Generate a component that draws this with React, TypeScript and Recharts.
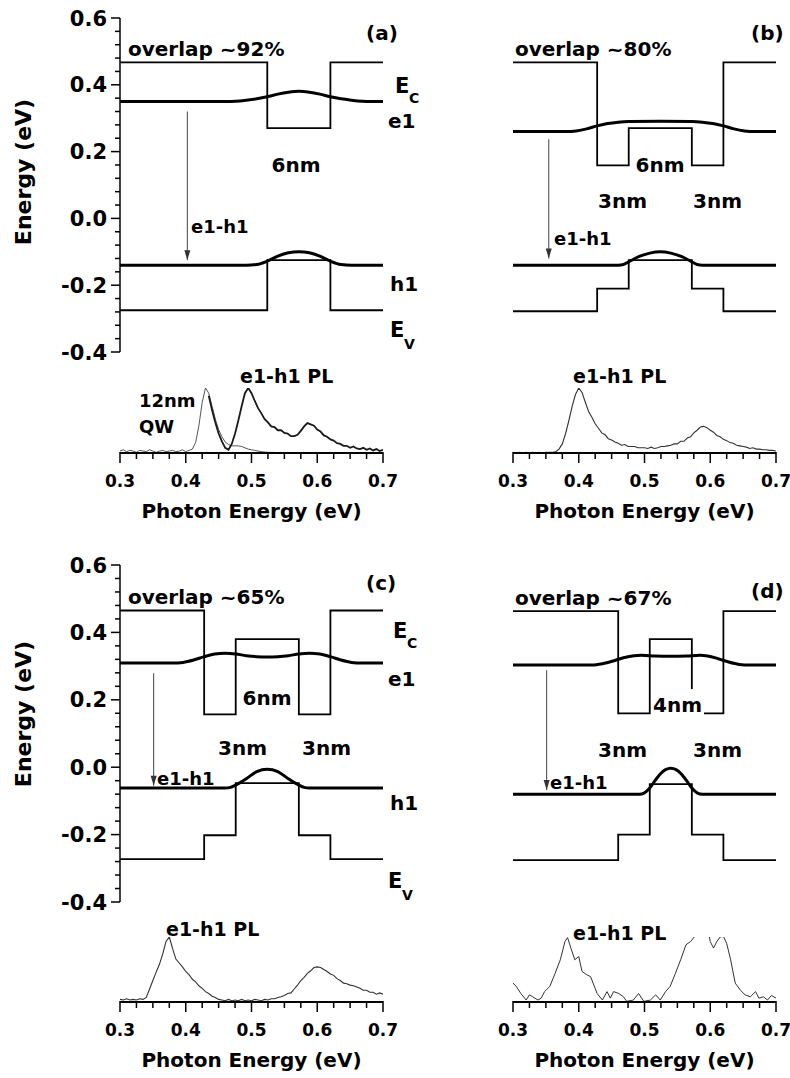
import React from "react";
import { ComposedChart, Line, XAxis, YAxis } from "recharts";

const FONT = "'DejaVu Sans', 'Liberation Sans', sans-serif";

type Pt = [number, number];

// ---------- band diagrams: [position along growth axis (nm), energy (eV)] ----------
const POSITION_RANGE = [0, 25];
const ENERGY_RANGE = [-0.4, 0.6];
const ENERGY_TICKS = [
  -0.4, -0.36, -0.32, -0.28, -0.24, -0.2, -0.16, -0.12, -0.08, -0.04, 0, 0.04, 0.08,
  0.12, 0.16, 0.2, 0.24, 0.28, 0.32, 0.36, 0.4, 0.44, 0.48, 0.52, 0.56, 0.6,
];

// (a) single 6 nm well
const A_EC: Pt[] = [[0, 0.467], [14, 0.467], [14, 0.27], [20, 0.27], [20, 0.467], [25, 0.467]];
const A_EV: Pt[] = [[0, -0.275], [14, -0.275], [14, -0.125], [20, -0.125], [20, -0.275], [25, -0.275]];
const A_E1: Pt[] = [
  [0, 0.35], [10, 0.35], [11, 0.351], [12, 0.354], [13, 0.358], [14, 0.364], [15, 0.372], [16, 0.378],
  [17, 0.381], [18, 0.378], [19, 0.372], [20, 0.364], [21, 0.358], [22, 0.354], [23, 0.351], [24, 0.35], [25, 0.35],
];
const A_H1: Pt[] = [
  [0, -0.14], [12, -0.14], [13, -0.138], [14, -0.128], [15, -0.113], [16, -0.103], [17, -0.1],
  [18, -0.103], [19, -0.113], [20, -0.128], [21, -0.138], [22, -0.14], [25, -0.14],
];
const A_ARROW: Pt[] = [[6.4, 0.32], [6.4, -0.125]];

// (b) 3 nm / 6 nm / 3 nm, shallow centre
const B_EC: Pt[] = [[0, 0.467], [8, 0.467], [8, 0.159], [11, 0.159], [11, 0.27], [17, 0.27], [17, 0.159], [20, 0.159], [20, 0.467], [25, 0.467]];
const B_EV: Pt[] = [[0, -0.278], [8, -0.278], [8, -0.21], [11, -0.21], [11, -0.125], [17, -0.125], [17, -0.21], [20, -0.21], [20, -0.278], [25, -0.278]];
const B_E1: Pt[] = [
  [0, 0.26], [5, 0.26], [6, 0.262], [7, 0.268], [8, 0.277], [9, 0.284], [10, 0.288], [11, 0.29], [14, 0.291],
  [17, 0.29], [18, 0.288], [19, 0.284], [20, 0.277], [21, 0.268], [22, 0.262], [23, 0.26], [25, 0.26],
];
const B_H1: Pt[] = [
  [0, -0.14], [10, -0.14], [10.5, -0.138], [11, -0.13], [12, -0.114], [13, -0.104], [14, -0.1],
  [15, -0.104], [16, -0.114], [17, -0.13], [17.5, -0.138], [18, -0.14], [25, -0.14],
];
const B_ARROW: Pt[] = [[3.4, 0.237], [3.4, -0.12]];

// (c) 3 nm / 6 nm / 3 nm, tall centre barrier
const C_EC: Pt[] = [[0, 0.465], [8, 0.465], [8, 0.157], [11, 0.157], [11, 0.38], [17, 0.38], [17, 0.157], [20, 0.157], [20, 0.465], [25, 0.465]];
const C_EV: Pt[] = [[0, -0.273], [8, -0.273], [8, -0.202], [11, -0.202], [11, -0.047], [17, -0.047], [17, -0.202], [20, -0.202], [20, -0.273], [25, -0.273]];
const C_E1: Pt[] = [
  [0, 0.309], [5, 0.309], [6, 0.311], [7, 0.318], [8, 0.328], [9, 0.336], [10, 0.338], [11, 0.336], [12, 0.331],
  [13, 0.328], [14, 0.327], [15, 0.328], [16, 0.331], [17, 0.336], [18, 0.338], [19, 0.336], [20, 0.328],
  [21, 0.318], [22, 0.311], [23, 0.309], [25, 0.309],
];
const C_H1: Pt[] = [
  [0, -0.062], [10, -0.062], [10.5, -0.06], [11, -0.053], [12, -0.034], [13, -0.013], [14, -0.006],
  [15, -0.013], [16, -0.034], [17, -0.053], [17.5, -0.06], [18, -0.062], [25, -0.062],
];
const C_ARROW: Pt[] = [[3.2, 0.279], [3.2, -0.055]];

// (d) 3 nm / 4 nm / 3 nm
const D_EC: Pt[] = [[0, 0.463], [10, 0.463], [10, 0.16], [13, 0.16], [13, 0.38], [17, 0.38], [17, 0.16], [20, 0.16], [20, 0.463], [25, 0.463]];
const D_EV: Pt[] = [[0, -0.276], [10, -0.276], [10, -0.2], [13, -0.2], [13, -0.05], [17, -0.05], [17, -0.2], [20, -0.2], [20, -0.276], [25, -0.276]];
const D_E1: Pt[] = [
  [0, 0.303], [7.5, 0.303], [8.5, 0.307], [9.5, 0.315], [10.5, 0.325], [11.5, 0.331], [12.2, 0.332], [13.5, 0.33],
  [15, 0.329], [16.5, 0.33], [17.8, 0.332], [18.5, 0.33], [19.5, 0.322], [20.5, 0.312], [21.5, 0.305], [22.5, 0.303], [25, 0.303],
];
const D_H1: Pt[] = [
  [0, -0.08], [12, -0.08], [12.5, -0.076], [13, -0.062], [13.5, -0.04], [14, -0.02], [14.5, -0.007], [15, -0.003],
  [15.5, -0.007], [16, -0.02], [16.5, -0.04], [17, -0.062], [17.5, -0.076], [18, -0.08], [25, -0.08],
];
const D_ARROW: Pt[] = [[3.2, 0.288], [3.2, -0.068]];

// ---------- PL spectra (normalised intensity vs photon energy, eV) ----------
const PHOTON_RANGE = [0.3, 0.7];
const PHOTON_TICKS = [0.3, 0.325, 0.35, 0.375, 0.4, 0.425, 0.45, 0.475, 0.5, 0.525, 0.55, 0.575, 0.6, 0.625, 0.65, 0.675, 0.7];
const PL_GRID = [
  0.3, 0.305, 0.31, 0.315, 0.32, 0.325, 0.33, 0.335, 0.34, 0.345,
  0.35, 0.355, 0.36, 0.365, 0.37, 0.375, 0.38, 0.385, 0.39, 0.395,
  0.4, 0.405, 0.41, 0.415, 0.42, 0.425, 0.43, 0.435, 0.44, 0.445,
  0.45, 0.455, 0.46, 0.465, 0.47, 0.475, 0.48, 0.485, 0.49, 0.495,
  0.5, 0.505, 0.51, 0.515, 0.52, 0.525, 0.53, 0.535, 0.54, 0.545,
  0.55, 0.555, 0.56, 0.565, 0.57, 0.575, 0.58, 0.585, 0.59, 0.595,
  0.6, 0.605, 0.61, 0.615, 0.62, 0.625, 0.63, 0.635, 0.64, 0.645,
  0.65, 0.655, 0.66, 0.665, 0.67, 0.675, 0.68, 0.685, 0.69, 0.695,
  0.7,
];

// 12 nm reference QW, 0.300 – 0.560 eV
const PL_A_QW = [
  0.03, 0.05, 0.02, 0.04, 0.03, 0.01, 0.04, 0.03, 0.02, 0.05,
  0.03, 0.01, 0.03, 0.04, 0.02, 0.03, 0.04, 0.02, 0.03, 0.05,
  0.02, 0.04, 0.06, 0.16, 0.42, 0.78, 1.0, 0.92, 0.72, 0.52,
  0.36, 0.25, 0.17, 0.13, 0.11, 0.11, 0.11, 0.1, 0.08, 0.06,
  0.05, 0.04, 0.03, 0.02, 0.015, 0.01, 0.01, 0.008, 0.006, 0.005,
  0.004, 0.003, 0.002,
];
// sample (a), 0.435 – 0.700 eV
const PL_A_E1H1 = [
  0.88, 0.66, 0.47,
  0.3, 0.18, 0.08, 0.05, 0.14, 0.3, 0.5, 0.72, 0.92, 1.0,
  0.92, 0.8, 0.69, 0.61, 0.52, 0.47, 0.41, 0.4, 0.35, 0.35,
  0.31, 0.3, 0.26, 0.26, 0.28, 0.34, 0.41, 0.46, 0.44, 0.42,
  0.36, 0.33, 0.27, 0.25, 0.21, 0.19, 0.15, 0.14, 0.11, 0.11,
  0.08, 0.1, 0.07, 0.06, 0.08, 0.05, 0.07, 0.04, 0.06, 0.03,
  0.05,
];
const PL_B = [
  0.01, 0.0, 0.01, 0.0, 0.01, 0.0, 0.01, 0.0, 0.01, 0.0,
  0.01, 0.01, 0.01, 0.02, 0.06, 0.14, 0.3, 0.5, 0.72, 0.9,
  1.0, 0.93, 0.78, 0.64, 0.55, 0.45, 0.38, 0.31, 0.28, 0.22,
  0.2, 0.17, 0.15, 0.12, 0.13, 0.1, 0.1, 0.1, 0.08, 0.08,
  0.08, 0.07, 0.09, 0.07, 0.08, 0.1, 0.1, 0.11, 0.12, 0.14,
  0.14, 0.18, 0.18, 0.23, 0.25, 0.31, 0.35, 0.4, 0.41, 0.39,
  0.35, 0.32, 0.27, 0.25, 0.21, 0.19, 0.16, 0.15, 0.12, 0.11,
  0.1, 0.09, 0.07, 0.08, 0.06, 0.06, 0.05, 0.05, 0.04, 0.04,
  0.03,
];
const PL_C = [
  0.04, 0.03, 0.05, 0.03, 0.04, 0.03, 0.05, 0.04, 0.07, 0.2,
  0.33, 0.46, 0.58, 0.74, 0.93, 1.0, 0.82, 0.66, 0.6, 0.54,
  0.47, 0.42, 0.35, 0.31, 0.25, 0.21, 0.16, 0.13, 0.09, 0.07,
  0.04, 0.03, 0.02, 0.04, 0.02, 0.03, 0.02, 0.04, 0.02, 0.03,
  0.02, 0.04, 0.03, 0.02, 0.04, 0.03, 0.05, 0.05, 0.07, 0.08,
  0.1, 0.13, 0.14, 0.2, 0.26, 0.33, 0.38, 0.44, 0.48, 0.53,
  0.54, 0.53, 0.5, 0.47, 0.43, 0.41, 0.36, 0.33, 0.29, 0.28,
  0.26, 0.25, 0.23, 0.21, 0.18, 0.18, 0.15, 0.15, 0.12, 0.14,
  0.12,
];
// weak, noisy spectrum; the top of the second band runs off the frame
const PL_D: Pt[] = [
  [0.3, 0.29], [0.305, 0.24], [0.312, 0.13], [0.32, 0.03], [0.325, 0.11], [0.33, 0.08], [0.338, 0.03],
  [0.343, 0.06], [0.348, 0.16], [0.356, 0.24], [0.364, 0.44], [0.372, 0.65], [0.379, 0.93], [0.383, 0.99],
  [0.389, 0.8], [0.394, 0.65], [0.4, 0.7], [0.405, 0.47], [0.412, 0.42], [0.418, 0.39], [0.423, 0.26],
  [0.428, 0.13], [0.436, 0.03], [0.443, 0.16], [0.448, 0.06], [0.453, 0.16], [0.461, 0.13], [0.468, 0.08],
  [0.473, 0.01], [0.483, 0.03], [0.491, 0.13], [0.499, 0.01], [0.509, 0.03], [0.517, 0.11], [0.524, 0.03],
  [0.532, 0.16], [0.539, 0.24], [0.547, 0.44], [0.555, 0.65], [0.563, 0.88], [0.57, 0.93], [0.578, 1.03],
  [0.585, 1.1], [0.592, 1.12], [0.598, 1.05], [0.6, 0.93], [0.605, 0.83], [0.61, 0.93], [0.615, 1.0],
  [0.62, 1.01], [0.625, 0.9], [0.631, 0.65], [0.638, 0.29], [0.646, 0.18], [0.653, 0.11], [0.661, 0.08],
  [0.669, 0.16], [0.674, 0.06], [0.681, 0.08], [0.687, 0.03], [0.693, 0.1], [0.7, 0.06],
];

const toRows = (pts: Pt[]) => pts.map(([x, y]) => ({ x, y }));
const onGrid = (vals: number[], start = 0) => vals.map((y, i) => ({ x: PL_GRID[start + i], y }));

const isMultiple = (v: number, step: number) => Math.abs(v / step - Math.round(v / step)) < 1e-6;

function EnergyTick(p: any) {
  const v = p.payload.value;
  const major = isMultiple(v, 0.2);
  return (
    <g>
      <line x1={p.x} x2={p.x - (major ? 9 : 5)} y1={p.y} y2={p.y} stroke="#000" strokeWidth={1.5} />
      {major && (
        <text x={p.x - 13} y={p.y + 7.5} textAnchor="end" fontFamily={FONT} fontWeight="bold" fontSize={21} fill="#000">
          {v.toFixed(1)}
        </text>
      )}
    </g>
  );
}

function PhotonTick(p: any) {
  const v = p.payload.value;
  const major = isMultiple(v, 0.1);
  return (
    <g>
      <line x1={p.x} x2={p.x} y1={p.y - 1} y2={p.y + (major ? 10 : 6)} stroke="#000" strokeWidth={1.5} />
      {major && (
        <text x={p.x} y={p.y + 34} textAnchor="middle" fontFamily={FONT} fontWeight="bold" fontSize={17} fill="#000">
          {v.toFixed(1)}
        </text>
      )}
    </g>
  );
}

const arrowHead = (p: any) => {
  if (p.index !== 1) return <g key={`a${p.index}`} />;
  return <path key={`a${p.index}`} d={`M${p.cx - 3},${p.cy - 10}L${p.cx + 3},${p.cy - 10}L${p.cx},${p.cy}Z`} fill="#333" />;
};

type Band = { ec: Pt[]; ev: Pt[]; e1: Pt[]; h1: Pt[]; arrow: Pt[] };

function BandDiagram({ band, left, top, plotHeight, withAxis }: { band: Band; left: number; top: number; plotHeight: number; withAxis: boolean }) {
  const width = withAxis ? 400 : 397;
  return (
    <div style={{ position: "absolute", left, top }}>
      <ComposedChart
        width={width}
        height={plotHeight + 36}
        margin={{ top: 18, bottom: 18, left: withAxis ? 0 : 120, right: withAxis ? 17 : 14 }}
      >
        <XAxis type="number" dataKey="x" domain={POSITION_RANGE} hide allowDataOverflow />
        <YAxis
          type="number"
          domain={ENERGY_RANGE}
          ticks={ENERGY_TICKS}
          interval={0}
          width={120}
          hide={!withAxis}
          tick={EnergyTick}
          tickLine={false}
          tickSize={0}
          tickMargin={0}
          axisLine={{ stroke: "#000", strokeWidth: 1.5 }}
          allowDataOverflow
        />
        <Line data={toRows(band.ec)} dataKey="y" type="linear" stroke="#000" strokeWidth={1.8} dot={false} isAnimationActive={false} />
        <Line data={toRows(band.ev)} dataKey="y" type="linear" stroke="#000" strokeWidth={1.8} dot={false} isAnimationActive={false} />
        <Line data={toRows(band.e1)} dataKey="y" type="monotone" stroke="#000" strokeWidth={3} dot={false} isAnimationActive={false} />
        <Line data={toRows(band.h1)} dataKey="y" type="monotone" stroke="#000" strokeWidth={3} dot={false} isAnimationActive={false} />
        <Line data={toRows(band.arrow)} dataKey="y" type="linear" stroke="#444" strokeWidth={1} dot={arrowHead} isAnimationActive={false} />
      </ComposedChart>
    </div>
  );
}

type Trace = { rows: { x: number; y: number }[]; width: number; color: string };

function Spectrum({ traces, left, top, wide }: { traces: Trace[]; left: number; top: number; wide: boolean }) {
  return (
    <div style={{ position: "absolute", left, top }}>
      <ComposedChart width={wide ? 400 : 397} height={140} margin={{ top: 28, bottom: 0, left: 120, right: wide ? 17 : 14 }}>
        <XAxis
          type="number"
          dataKey="x"
          domain={PHOTON_RANGE}
          ticks={PHOTON_TICKS}
          interval={0}
          height={47}
          tick={PhotonTick}
          tickLine={false}
          tickSize={0}
          tickMargin={0}
          axisLine={{ stroke: "#000", strokeWidth: 2 }}
          allowDataOverflow
        />
        <YAxis type="number" domain={[0, 1]} hide allowDataOverflow />
        {traces.map((t, i) => (
          <Line key={i} data={t.rows} dataKey="y" type="linear" stroke={t.color} strokeWidth={t.width} dot={false} isAnimationActive={false} />
        ))}
      </ComposedChart>
    </div>
  );
}

const T = (props: any) => <text fontFamily={FONT} fontWeight="bold" fill="#000" {...props} />;

function Annotations() {
  return (
    <svg width={790} height={1078} style={{ position: "absolute", left: 0, top: 0, pointerEvents: "none" }}>
      {/* axis titles */}
      <T transform="translate(31,172) rotate(-90)" textAnchor="middle" fontSize={22}>Energy (eV)</T>
      <T transform="translate(31,714) rotate(-90)" textAnchor="middle" fontSize={22}>Energy (eV)</T>
      <T x={251.5} y={518} textAnchor="middle" fontSize={20}>Photon Energy (eV)</T>
      <T x={644.5} y={518} textAnchor="middle" fontSize={20}>Photon Energy (eV)</T>
      <T x={251.5} y={1067} textAnchor="middle" fontSize={20}>Photon Energy (eV)</T>
      <T x={644.5} y={1067} textAnchor="middle" fontSize={20}>Photon Energy (eV)</T>

      {/* (a) */}
      <T x={128} y={56} fontSize={20}>overlap ~92%</T>
      <T x={366} y={40} fontSize={20}>(a)</T>
      <T x={296} y={172} textAnchor="middle" fontSize={20}>6nm</T>
      <T x={191} y={233} fontSize={18}>e1-h1</T>
      <T x={395} y={93} fontSize={21}>E</T>
      <T x={409} y={103} fontSize={14}>C</T>
      <T x={388} y={128} fontSize={20}>e1</T>
      <T x={390} y={291} fontSize={20}>h1</T>
      <T x={390} y={337} fontSize={21}>E</T>
      <T x={404} y={349} fontSize={14}>V</T>
      <T x={139} y={407} fontSize={18}>12nm</T>
      <T x={139} y={433} fontSize={18}>QW</T>
      <T x={240} y={383} fontSize={19}>e1-h1 PL</T>

      {/* (b) */}
      <T x={515} y={56} fontSize={20}>overlap ~80%</T>
      <T x={751} y={40} fontSize={20}>(b)</T>
      <T x={660} y={172} textAnchor="middle" fontSize={20}>6nm</T>
      <T x={598} y={208} fontSize={20}>3nm</T>
      <T x={693} y={208} fontSize={20}>3nm</T>
      <T x={554} y={245} fontSize={18}>e1-h1</T>
      <T x={573} y={383} fontSize={19}>e1-h1 PL</T>

      {/* (c) */}
      <T x={128} y={604} fontSize={20}>overlap ~65%</T>
      <T x={366} y={590} fontSize={20}>(c)</T>
      <T x={267} y={705} textAnchor="middle" fontSize={20}>6nm</T>
      <T x={218} y={755} fontSize={20}>3nm</T>
      <T x={302} y={755} fontSize={20}>3nm</T>
      <T x={157} y={785} fontSize={18}>e1-h1</T>
      <T x={393} y={638} fontSize={21}>E</T>
      <T x={407} y={648} fontSize={14}>C</T>
      <T x={388} y={686} fontSize={20}>e1</T>
      <T x={390} y={810} fontSize={20}>h1</T>
      <T x={388} y={888} fontSize={21}>E</T>
      <T x={402} y={900} fontSize={14}>V</T>
      <T x={166} y={936} fontSize={19}>e1-h1 PL</T>

      {/* (d) */}
      <T x={515} y={605} fontSize={20}>overlap ~67%</T>
      <T x={751} y={598} fontSize={20}>(d)</T>
      <rect x={651} y={689} width={53} height={27} fill="#fff" />
      <T x={653} y={712} fontSize={20}>4nm</T>
      <T x={598} y={757} fontSize={20}>3nm</T>
      <T x={693} y={757} fontSize={20}>3nm</T>
      <T x={550} y={789} fontSize={18}>e1-h1</T>
      <T x={573} y={940} fontSize={19}>e1-h1 PL</T>
    </svg>
  );
}

export default function App() {
  const thin = "#333";
  return (
    <div style={{ position: "absolute", left: 0, top: 0, width: 790, height: 1078, background: "#fff", overflow: "hidden" }}>
      <BandDiagram band={{ ec: A_EC, ev: A_EV, e1: A_E1, h1: A_H1, arrow: A_ARROW }} left={0} top={0} plotHeight={334} withAxis />
      <BandDiagram band={{ ec: B_EC, ev: B_EV, e1: B_E1, h1: B_H1, arrow: B_ARROW }} left={393} top={0} plotHeight={334} withAxis={false} />
      <BandDiagram band={{ ec: C_EC, ev: C_EV, e1: C_E1, h1: C_H1, arrow: C_ARROW }} left={0} top={547} plotHeight={337} withAxis />
      <BandDiagram band={{ ec: D_EC, ev: D_EV, e1: D_E1, h1: D_H1, arrow: D_ARROW }} left={393} top={547} plotHeight={337} withAxis={false} />

      <Spectrum
        left={0}
        top={360}
        wide
        traces={[
          { rows: onGrid(PL_A_QW), width: 1, color: "#555" },
          { rows: onGrid(PL_A_E1H1, 27), width: 1.8, color: "#1a1a1a" },
        ]}
      />
      <Spectrum left={393} top={360} wide={false} traces={[{ rows: onGrid(PL_B), width: 1.1, color: thin }]} />
      <Spectrum left={0} top={909} wide traces={[{ rows: onGrid(PL_C), width: 1.1, color: thin }]} />
      <Spectrum left={393} top={909} wide={false} traces={[{ rows: toRows(PL_D), width: 1, color: thin }]} />

      <Annotations />
    </div>
  );
}
